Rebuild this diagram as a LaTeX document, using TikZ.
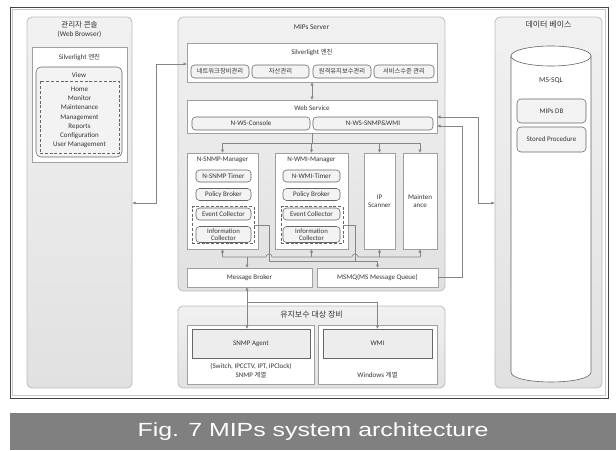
\documentclass[tikz,border=0pt]{standalone}
\usepackage{fontspec}
\setmainfont{Carlito}
\newfontfamily\kr{Noto Sans CJK KR}
\newfontfamily\capfont{Liberation Sans}
\usetikzlibrary{arrows.meta}

\definecolor{panelhi}{HTML}{F1F1F1}
\definecolor{panello}{HTML}{E1E1E1}
\definecolor{panelline}{HTML}{BDBDBD}
\definecolor{boxline}{HTML}{A0A0A0}
\definecolor{pillfill}{HTML}{F3F3F3}
\definecolor{pillline}{HTML}{666666}
\definecolor{txt}{HTML}{353535}
\definecolor{wirec}{HTML}{858585}
\definecolor{capband}{HTML}{808080}
\definecolor{framedark}{HTML}{454545}
\definecolor{framelight}{HTML}{C8C8C8}
\definecolor{agentfill}{HTML}{EDEDED}

\begin{document}
\begin{tikzpicture}[x=1pt,y=-1pt,
  font=\fontsize{7}{8}\selectfont, text=txt,
  >={Triangle[length=3.2pt,width=2.8pt]},
  panel/.style={draw=panelline, line width=0.8pt, rounded corners=5pt,
    top color=panelhi, bottom color=panello, inner sep=0pt},
  wbox/.style={draw=boxline, line width=0.6pt, fill=white, inner sep=0pt},
  pill/.style={draw=pillline, line width=0.55pt, fill=pillfill,
    rounded corners=3.5pt, inner sep=0pt, align=center},
  dbox/.style={draw=pillline, line width=0.5pt, dash pattern=on 3pt off 1.8pt, inner sep=0pt},
  wire/.style={draw=wirec, line width=0.6pt},
  ttl/.style={inner sep=0pt, align=center},
  krs/.style={font=\kr\fontsize{6.3}{7}\selectfont},
]
% canvas and outer frame
\fill[white] (0,0) rectangle (616,450);
\useasboundingbox (0,0) rectangle (616,450);
\draw[framedark, line width=1pt] (10,7) rectangle (608,398);
\draw[framelight, line width=0.5pt] (12.5,9.5) rectangle (605.5,395.5);

% ---------------- admin console ----------------
\node[panel, minimum width=105pt, minimum height=371pt] (lp) at (79.5,202.5) {};
\node[ttl, font=\kr\fontsize{7.5}{8}\selectfont] (lpt) at (79.5,25) {관리자 콘솔};
\node[ttl, font=\fontsize{7.2}{8}\selectfont] (lpt2) at (79.5,34) {(Web Browser)};
\node[wbox, minimum width=95pt, minimum height=115pt] (lsl) at (79.5,104.5) {};
\node[ttl] (lslt) at (79.5,57) {Silverlight {\kr\fontsize{6.5}{7}\selectfont 엔진}};
\node[pill, rounded corners=5pt, minimum width=86pt, minimum height=90pt] (view) at (79,112) {};
\node[ttl] (viewt) at (79,75) {View};
\node[dbox, minimum width=79pt, minimum height=72pt] (vd) at (79.5,117) {};
\node[ttl, font=\fontsize{7}{9.2}\selectfont] (vitems) at (79.5,117.5)
  {Home\\Monitor\\Maintenance\\Management\\Reports\\Configuration\\User Management};

% ---------------- MIPs server ----------------
\node[panel, minimum width=267pt, minimum height=274pt] (cp) at (311.5,154) {};
\node[ttl, font=\fontsize{7.3}{8}\selectfont] (cpt) at (311.5,27) {MIPs Server};

\node[wbox, minimum width=250pt, minimum height=39pt] (sl) at (312,62.5) {};
\node[ttl] (slt) at (312,52) {Silverlight {\kr\fontsize{6.5}{7}\selectfont 엔진}};
\node[pill, krs, minimum width=58pt, minimum height=13pt] (p1) at (220,71.5) {네트워크장비관리};
\node[pill, krs, minimum width=57pt, minimum height=13pt] (p2) at (280.5,71.5) {자산관리};
\node[pill, krs, minimum width=58pt, minimum height=13pt] (p3) at (342,71.5) {원격유지보수관리};
\node[pill, krs, minimum width=60pt, minimum height=13pt] (p4) at (404,71.5) {서비스수준 관리};

\node[wbox, minimum width=250pt, minimum height=33pt] (ws) at (312,116.5) {};
\node[ttl] (wst) at (312,108.5) {Web Service};
\node[pill, minimum width=118pt, minimum height=13pt] (wsc) at (251,123.5) {N-WS-Console};
\node[pill, minimum width=120pt, minimum height=13pt] (wss) at (373,123.5) {N-WS-SNMP\&WMI};

% managers
\node[wbox, minimum width=71pt, minimum height=96pt] (nm) at (222.5,201) {};
\node[ttl] (nmt) at (222.5,159.5) {N-SNMP-Manager};
\node[pill, minimum width=55pt, minimum height=12pt] (nmt1) at (223.5,176) {N-SNMP Timer};
\node[pill, minimum width=55pt, minimum height=12pt] (nmp) at (223.5,194.5) {Policy Broker};
\node[dbox, minimum width=62pt, minimum height=37pt] (ds) at (223,225) {};
\node[pill, minimum width=55pt, minimum height=12pt] (nme) at (223.5,214) {Event Collector};
\node[pill, minimum width=55pt, minimum height=16pt, font=\fontsize{6.8}{7}\selectfont] (nmi) at (223.5,234.5) {Information\\Collector};

\node[wbox, minimum width=73pt, minimum height=96pt] (nw) at (311.5,201) {};
\node[ttl] (nwt) at (311.5,159.5) {N-WMI-Manager};
\node[pill, minimum width=57pt, minimum height=12pt] (nwt1) at (311.5,176) {N-WMI-Timer};
\node[pill, minimum width=57pt, minimum height=12pt] (nwp) at (311.5,194.5) {Policy Broker};
\node[dbox, minimum width=62pt, minimum height=37pt] (dw) at (312,225) {};
\node[pill, minimum width=57pt, minimum height=12pt] (nwe) at (311.5,214) {Event Collector};
\node[pill, minimum width=57pt, minimum height=16pt, font=\fontsize{6.8}{7}\selectfont] (nwi) at (311.5,234.5) {Information\\Collector};

\node[wbox, minimum width=31pt, minimum height=96pt, align=center] (ip) at (379.5,201) {IP\\Scanner};
\node[wbox, minimum width=34pt, minimum height=96pt, align=center] (mt) at (420,201) {Mainten\\ance};

\node[wbox, minimum width=125pt, minimum height=19pt] (mb) at (249.5,277.5) {Message Broker};
\node[wbox, minimum width=121pt, minimum height=19pt] (mq) at (377.5,277.5) {MSMQ(MS Message Queue)};

% ---------------- managed devices ----------------
\node[panel, minimum width=267pt, minimum height=82pt] (bp) at (311.5,347) {};
\node[ttl, font=\kr\fontsize{8}{9}\selectfont] (bpt) at (311.5,315) {유지보수 대상 장비};
\node[wbox, minimum width=127pt, minimum height=59pt] (so) at (250.5,354.5) {};
\node[wbox, draw=pillline, fill=agentfill, minimum width=118pt, minimum height=29pt] (sa) at (251,343.5) {SNMP Agent};
\node[ttl, font=\fontsize{7}{9}\selectfont] (sat) at (251,370.5) {(Switch, IPCCTV, IPT, IPClock)\\SNMP {\kr\fontsize{6.5}{7}\selectfont 계열}};
\node[wbox, minimum width=119pt, minimum height=59pt] (wo) at (377.5,354.5) {};
\node[wbox, draw=pillline, fill=agentfill, minimum width=109pt, minimum height=29pt] (wi) at (377.5,343.5) {WMI};
\node[ttl] (wit) at (377.5,375) {Windows {\kr\fontsize{6.5}{7}\selectfont 계열}};

% ---------------- database ----------------
\node[panel, minimum width=107pt, minimum height=371pt] (dp) at (548.5,202.5) {};
\node[ttl, font=\kr\fontsize{8}{9}\selectfont] (dpt) at (548.5,25) {데이터 베이스};
\filldraw[draw=pillline, line width=0.6pt, fill=white]
  (511,56) -- (511,372) .. controls (511,385.3) and (591,385.3) .. (591,372) -- (591,56) -- cycle;
\draw[pillline, line width=0.6pt, fill=white] (551,56) ellipse[x radius=40pt, y radius=10pt];
\node[ttl, font=\fontsize{7.5}{8}\selectfont] (sql) at (551,81) {MS-SQL};
\node[pill, rounded corners=4pt, minimum width=69pt, minimum height=24pt] (mdb) at (551.5,111) {MIPs DB};
\node[pill, rounded corners=4pt, minimum width=69pt, minimum height=25pt] (spr) at (551.5,139.5) {Stored Procedure};

% ---------------- connectors ----------------
\coordinate (tb) at (0,143);
\coordinate (ba) at (0,257);
\coordinate (bb) at (0,261);
\coordinate (mbx) at (247,0);
\coordinate (br) at (247,302);
\coordinate (lc1) at (156,203);
\coordinate (lc2) at (156,64);
\coordinate (r1) at (478,117);
\coordinate (r1b) at (478,203);
\coordinate (r2) at (462,126);
\coordinate (r2b) at (462,277);
\coordinate (j1) at (269,0);
\coordinate (j2) at (355,0);

% Silverlight <-> Web Service
\draw[wire,<->] (sl.south) -- (ws.north);
% Web Service fan-out to the managers
\draw[wire] (ws.south) -- (ws.south |- tb);
\draw[wire] (nm.north |- tb) -- (mt.north |- tb);
\foreach \n in {nm,nw,ip,mt} \draw[wire,->] (\n.north |- tb) -- (\n.north);
% return bus (with line hops)
\draw[wire] (nm.south |- ba) -- (266,257) .. controls (266,253) and (272,253) .. (272,257)
  -- (352,257) .. controls (352,253) and (358,253) .. (358,257) -- (mt.south |- ba);
\foreach \n in {nm,nw,ip,mt} \draw[wire,->] (\n.south |- ba) -- (\n.south);
\draw[wire,->] (mbx |- ba) -- (mbx |- mb.north);
% collectors to MSMQ
\draw[wire] (ds.east) -- (j1 |- ds.east) -- (j1 |- bb) -- (mq.north |- bb);
\draw[wire,->] (mq.north |- bb) -- (mq.north);
\draw[wire] (dw.east) -- (j2 |- dw.east) -- (j2 |- bb);
% Message Broker to devices
\draw[wire,<->] (mbx |- mb.south) -- (mbx |- sa.north);
\draw[wire,->] (br) -| (wi.north);
% admin console <-> Silverlight engine
\draw[wire,<->] (lp.east |- lc1) -- (lc1) -- (lc2) -- (sl.west |- lc2);
% Web Service <-> database, MSMQ -> Web Service
\draw[wire,<->] (ws.east |- r1) -- (r1) -- (r1b) -- (dp.west |- r1b);
\draw[wire,<-] (ws.east |- r2) -- (r2) -- (r2b) -- (mq.east |- r2b);

% ---------------- caption ----------------
\fill[capband] (10,413) rectangle (616,450);
\node[ttl, text=white, font=\capfont\fontsize{19}{22}\selectfont] (cap) at (313,431.5)
  {\scalebox{1.31}[1]{Fig. 7 MIPs system architecture}};
\end{tikzpicture}
\end{document}
